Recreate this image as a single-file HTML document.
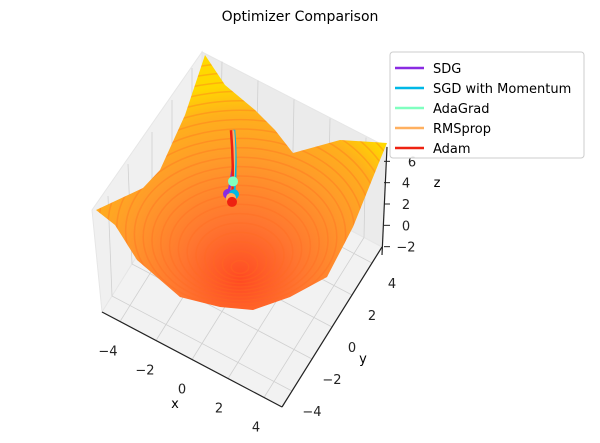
<!DOCTYPE html>
<html><head><meta charset="utf-8"><style>
body{margin:0;background:#fff;}
svg{display:block;font-family:"DejaVu Sans","Liberation Sans",sans-serif;}
</style></head><body>
<svg width="600" height="443" viewBox="0 0 600 443" xmlns="http://www.w3.org/2000/svg">
<defs>
<radialGradient id="surf" cx="240" cy="280" r="195" gradientUnits="userSpaceOnUse">
<stop offset="0" stop-color="#ff4a22"/>
<stop offset="0.3" stop-color="#ff7530"/>
<stop offset="0.62" stop-color="#ff9a2a"/>
<stop offset="0.85" stop-color="#ffb01c"/>
<stop offset="1" stop-color="#ffd800"/>
</radialGradient>
<clipPath id="surfclip"><path d="M205,55 L225,85 L255,110 L275,130 L293,153 L340,140 L387,143 L380,160 L353,227 L327,277 L290,297 L253,310 L220,307 L180,297 L137,260 L115,225 L96,210 L143,188 L160,170 L185,115 Z"/></clipPath>
</defs>
<text x="300" y="21" font-size="14" text-anchor="middle">Optimizer Comparison</text>
<g>
<polygon points="102,312 202,152 202,52 92,210" fill="#f0f0f0" stroke="#e6e6e6"/>
<polygon points="202,152 382,247 387,147 202,52" fill="#ebebeb" stroke="#e6e6e6"/>
<polygon points="102,312 282,407 382,247 202,152" fill="#f2f2f2" stroke="#e6e6e6"/>
<g id="grid" stroke="#d0d0d0" stroke-width="0.8" fill="none"></g>
</g>
<g>
<path d="M205,55 L225,85 L255,110 L275,130 L293,153 L340,140 L387,143 L380,160 L353,227 L327,277 L290,297 L253,310 L220,307 L180,297 L137,260 L115,225 L96,210 L143,188 L160,170 L185,115 Z" fill="url(#surf)"/>
<g id="contours" clip-path="url(#surfclip)" fill="none" stroke="#ff6a20" stroke-opacity="0.35" stroke-width="1.5"></g>
</g>
<g stroke="#222" stroke-width="1.2" fill="none">
<line x1="102" y1="312" x2="282" y2="407"/>
<line x1="282" y1="407" x2="382" y2="247"/>
<line x1="387" y1="147" x2="382" y2="255"/>
</g>
<g id="ticks" font-size="13" fill="#222"></g>
<text x="175" y="408" font-size="13" text-anchor="middle">x</text>
<text x="363" y="363" font-size="13" text-anchor="middle">y</text>
<text x="437" y="187" font-size="13" text-anchor="middle">z</text>
<g id="paths"></g>
<g>
<rect x="390" y="52" width="194" height="106" rx="3" fill="#fff" fill-opacity="0.85" stroke="#ccc"/>
<g id="legend-items" font-size="13"></g>
</g>
</svg>
<script>
const NS='http://www.w3.org/2000/svg';
const optimizers=['SDG','SGD with Momentum','AdaGrad','RMSprop','Adam'];
const colors=['#8a2be2','#00b8e6','#80ffc0','#ffb060','#ee2211'];
const startX=[-0.5,-0.5,-0.5,-0.5,-0.5];
const startY=[0.0,0.1,-0.1,0.0,-0.2];
const startZ=[10.4,10.4,10.6,10.5,10.8];
const endX=[-0.5,-0.5,-0.5,-0.5,-0.5];
const endY=[-0.5,0.1,0.0,-0.2,-0.1];
const endZ=[5.5,4.6,5.9,4.7,4.2];
const xTicks=[-4,-2,0,2,4];
const yTicks=[-4,-2,0,2,4];
const zTicks=[-2,0,2,4,6];
function proj(x,y,z){
  const u=(x+5)/10, v=(y+5)/10, w=(z+2.5)/9;
  const px=102+180*u+100*v;
  const py=312+95*u-160*v-100*w;
  return [px,py];
}
function el(t,a,p){const e=document.createElementNS(NS,t);for(const k in a)e.setAttribute(k,a[k]);p.appendChild(e);return e;}
const grid=document.getElementById('grid');
[-4,-2,0,2,4].forEach(t=>{
  const u=(t+5)/10;
  let x1=102+180*u,y1=312+95*u;
  let l=el('line',{x1:x1,y1:y1,x2:x1+100,y2:y1-160},grid);
  
  
  const px=102+100*u, py=312-160*u;
  let l2=el('line',{x1:px,y1:py,x2:px+180,y2:py+95},grid);
  
  
  let l3=el('line',{x1:px,y1:py,x2:px-(u<0.5?4:0),y2:py-100},grid);
  
  
  const qx=202+180*u, qy=152+95*u;
  let l4=el('line',{x1:qx,y1:qy,x2:qx+2,y2:qy-100},grid);
  
  
});
const cont=document.getElementById('contours');
for(let i=1;i<=22;i++){
  const r=i*8;
  let c=el('ellipse',{cx:240,cy:270-i*3,rx:r*1.1,ry:r*0.8},cont);
  
  
}
const tk=document.getElementById('ticks');
xTicks.forEach((t,i)=>{const u=(t+5)/10;const p=[102+180*u,312+95*u];
  let tx=el('text',{x:p[0]-12+i,y:p[1]+34,'text-anchor':'middle'},tk);tx.textContent=t<0?'\u2212'+(-t):t;
  });
yTicks.forEach(t=>{const v=(t+5)/10;const p=[282+100*v,407-160*v];
  let tx=el('text',{x:p[0]+20,y:p[1]+25,'text-anchor':'middle'},tk);tx.textContent=t<0?'\u2212'+(-t):t;
  });
zTicks.forEach(t=>{const w=(t+2.5)/9;const y=252-w*96;
  let tx=el('text',{x:406+(t>4?6:0),y:y+5,'text-anchor':'middle'},tk);tx.textContent=t<0?'\u2212'+(-t):t;
  
  let m=el('line',{x1:384,y1:y,x2:390,y2:y,stroke:'#222'},tk);
  });
const pg=document.getElementById('paths');
optimizers.forEach((n,i)=>{
  const s=proj(startX[i],startY[i],startZ[i]), e=proj(endX[i],endY[i],endZ[i]);
  let l=el('path',{d:`M${s[0]},${s[1]} Q${s[0]+3},${(s[1]+e[1])/2} ${e[0]},${e[1]}`,stroke:colors[i],'stroke-width':2.5,fill:'none'},pg);
  
  
});
optimizers.forEach((n,i)=>{
  const e=proj(endX[i],endY[i],endZ[i]);
  let c=el('circle',{cx:e[0],cy:e[1],r:5,fill:colors[i]},pg);
  
  
});
const lg=document.getElementById('legend-items');
optimizers.forEach((n,i)=>{
  const y=68+i*20;
  let l=el('line',{x1:395,y1:y,x2:424,y2:y,stroke:colors[i],'stroke-width':2.5},lg);
  
  let t=el('text',{x:433,y:y+5},lg);t.textContent=n;
  
});
</script>
</body></html>
